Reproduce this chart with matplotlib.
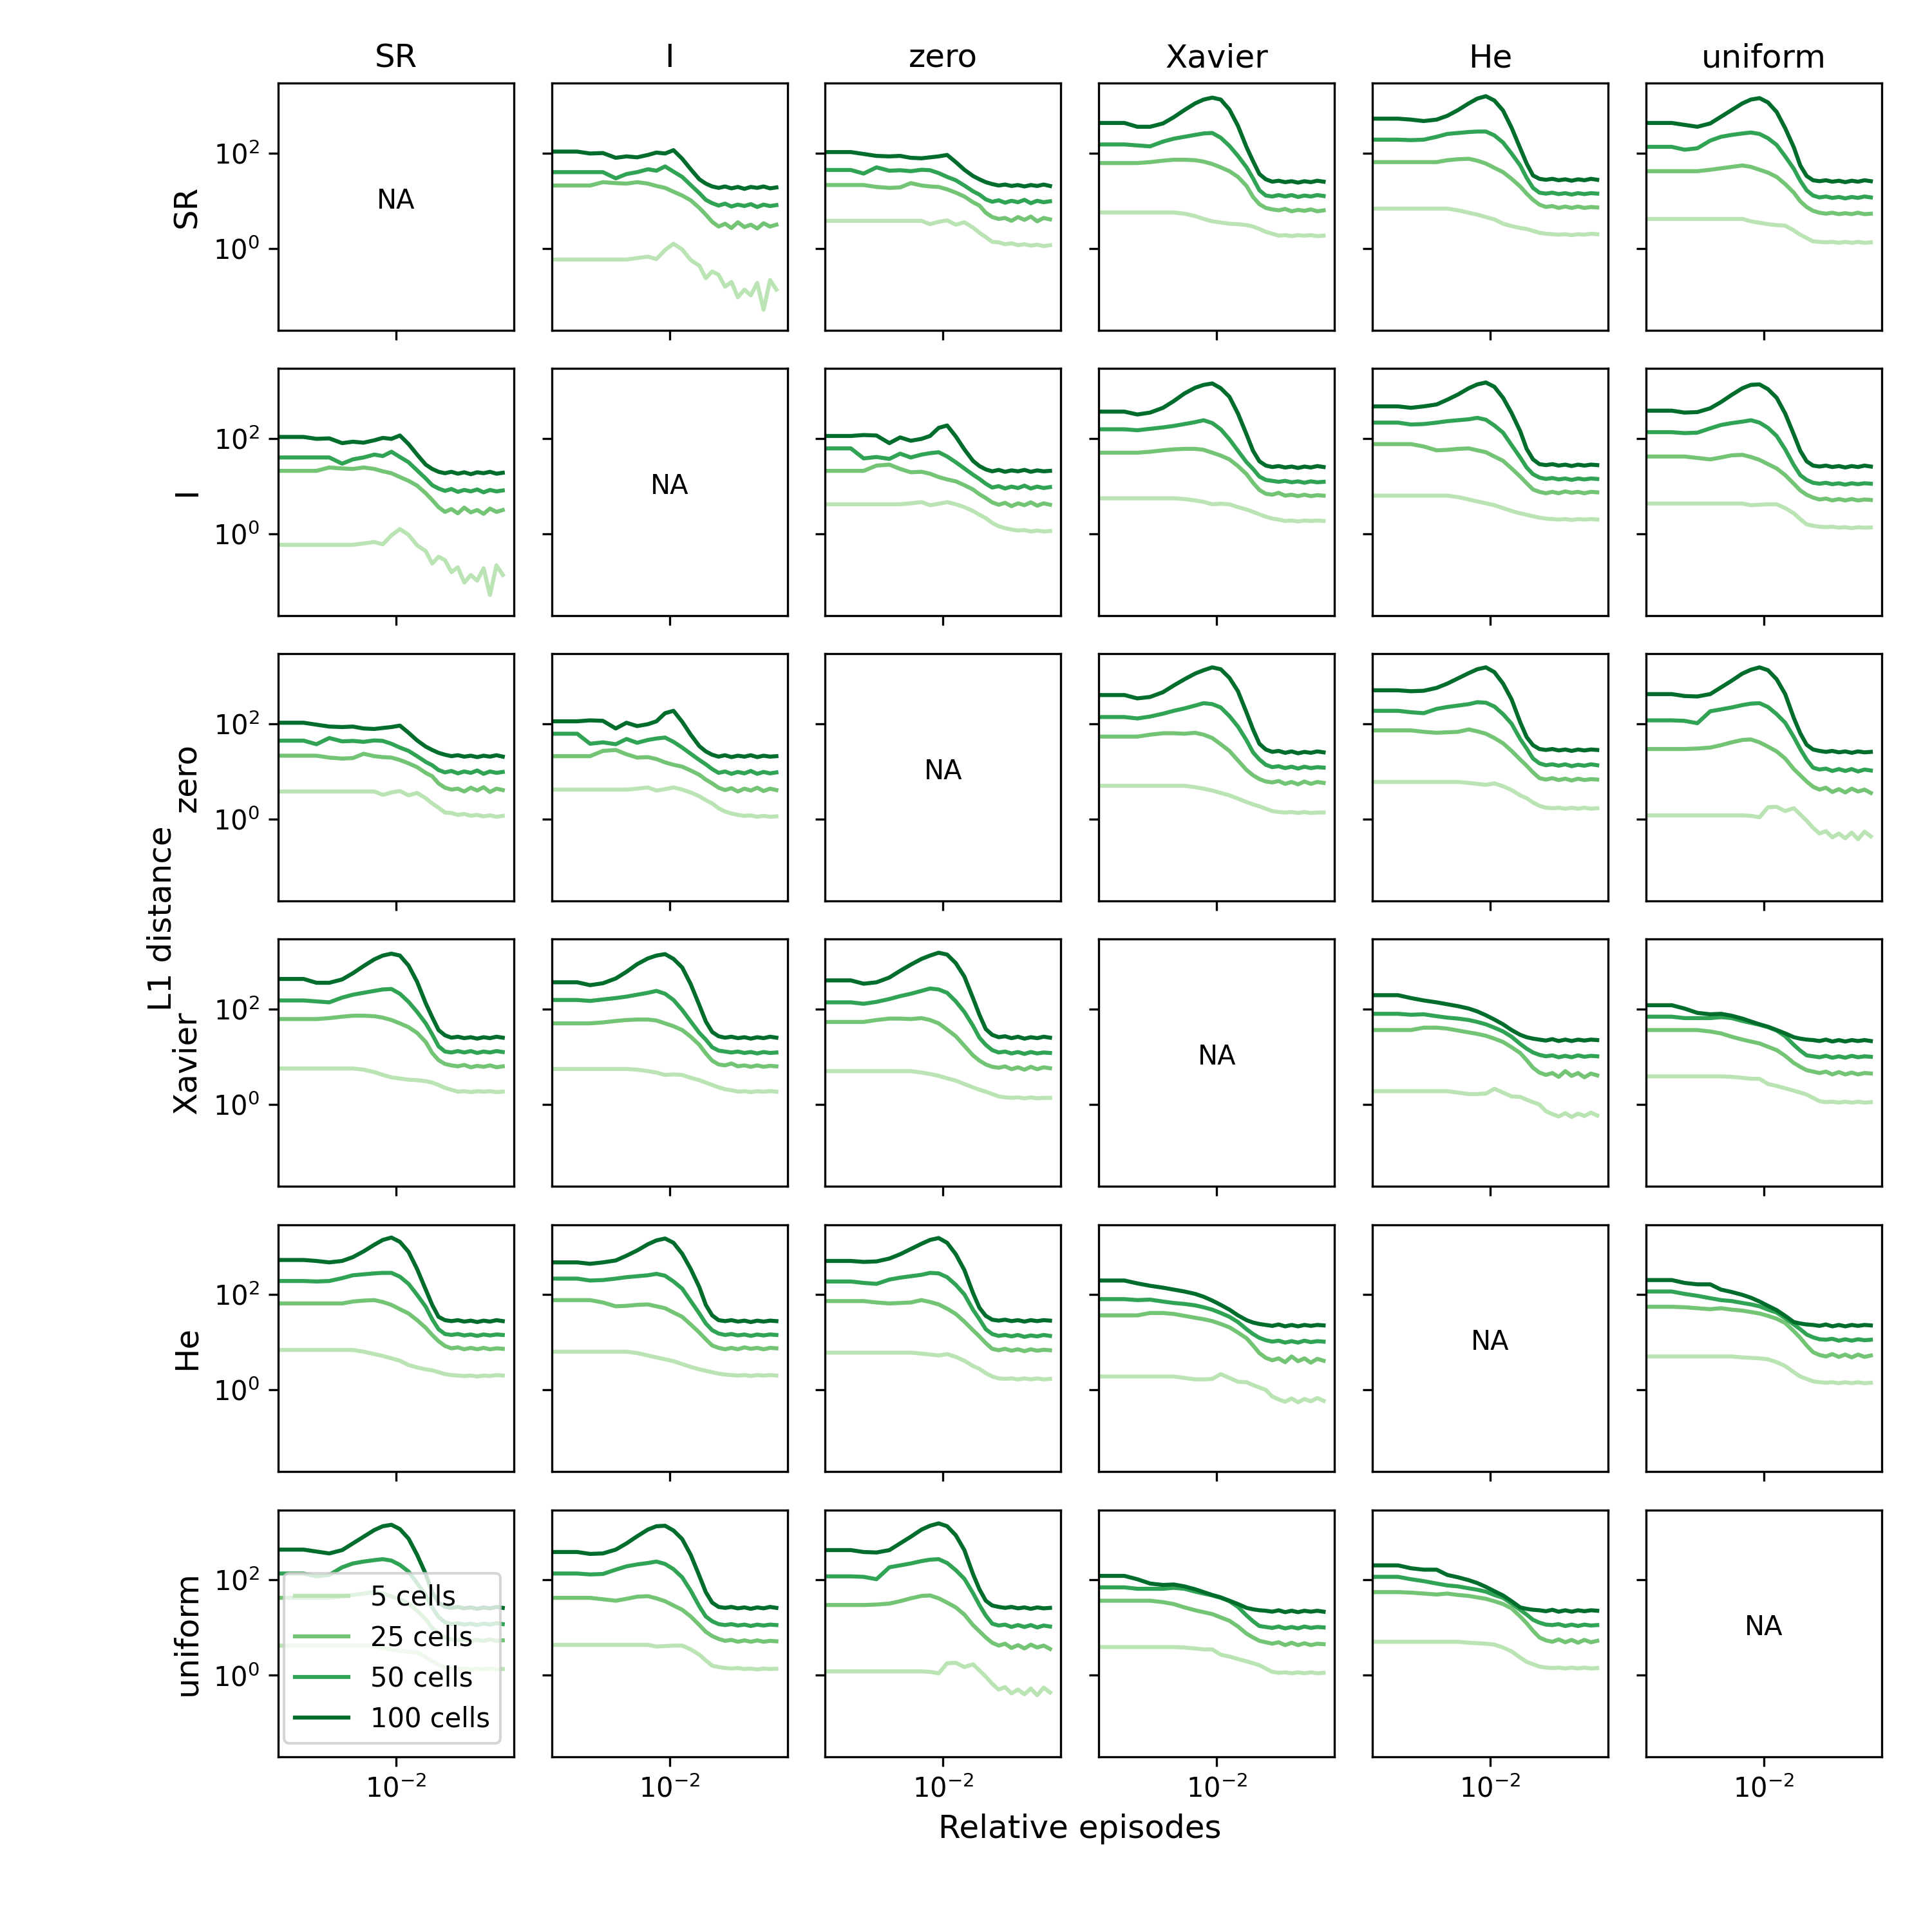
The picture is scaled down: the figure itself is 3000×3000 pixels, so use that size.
import numpy as np
import matplotlib
matplotlib.use("Agg")
import matplotlib.pyplot as plt
from matplotlib.ticker import NullLocator

inits = ['SR', 'I', 'zero', 'Xavier', 'He', 'uniform']
cells = ['5 cells', '25 cells', '50 cells', '100 cells']
colors = ['#bae4b3', '#74c476', '#31a354', '#006d2c']

# relative episodes (first point is episode 0)
episodes = [0.0, 0.000506, 0.000766, 0.00116, 0.00176, 0.00249, 0.00352, 0.00498,
            0.00656, 0.00867, 0.0114, 0.0151, 0.0199, 0.0263, 0.0324, 0.0398,
            0.049, 0.0604, 0.0743, 0.0914, 0.113, 0.139, 0.171, 0.21, 0.259, 0.318]

# log10 of the L1 distance, one list per cell count (5, 25, 50, 100)
sr_i = [
    [-0.23, -0.23, -0.23, -0.23, -0.23, -0.23, -0.20, -0.17, -0.22, -0.03, 0.10, -0.02, -0.24,
     -0.36, -0.62, -0.48, -0.55, -0.80, -0.70, -1.02, -0.86, -0.98, -0.72, -1.28, -0.66, -0.86],
    [1.32, 1.32, 1.32, 1.39, 1.37, 1.36, 1.39, 1.36, 1.31, 1.27, 1.19, 1.11, 1.01,
     0.85, 0.71, 0.56, 0.46, 0.52, 0.43, 0.55, 0.45, 0.50, 0.42, 0.53, 0.46, 0.50],
    [1.60, 1.60, 1.60, 1.60, 1.47, 1.56, 1.60, 1.66, 1.63, 1.72, 1.61, 1.50, 1.33,
     1.16, 1.02, 0.95, 0.90, 0.94, 0.88, 0.92, 0.89, 0.93, 0.87, 0.92, 0.89, 0.91],
    [2.03, 2.03, 1.99, 2.00, 1.90, 1.93, 1.91, 1.96, 2.01, 1.99, 2.06, 1.88, 1.66,
     1.45, 1.36, 1.30, 1.27, 1.30, 1.26, 1.29, 1.25, 1.29, 1.27, 1.30, 1.26, 1.28],
]
sr_zero = [
    [0.58, 0.58, 0.58, 0.58, 0.58, 0.58, 0.58, 0.58, 0.51, 0.56, 0.59, 0.50, 0.55,
     0.44, 0.33, 0.24, 0.14, 0.13, 0.09, 0.11, 0.07, 0.09, 0.06, 0.08, 0.05, 0.07],
    [1.33, 1.33, 1.33, 1.29, 1.27, 1.28, 1.37, 1.32, 1.30, 1.29, 1.24, 1.17, 1.09,
     0.97, 0.90, 0.75, 0.66, 0.62, 0.64, 0.58, 0.66, 0.60, 0.67, 0.57, 0.64, 0.61],
    [1.645, 1.645, 1.57, 1.70, 1.63, 1.64, 1.62, 1.65, 1.64, 1.58, 1.50, 1.43, 1.32,
     1.20, 1.13, 1.03, 0.98, 1.01, 0.96, 1.00, 0.97, 1.02, 0.95, 1.00, 0.97, 0.99],
    [2.02, 2.02, 1.98, 1.94, 1.93, 1.94, 1.90, 1.89, 1.91, 1.93, 1.96, 1.81, 1.65,
     1.52, 1.45, 1.39, 1.35, 1.32, 1.34, 1.31, 1.33, 1.30, 1.33, 1.31, 1.34, 1.31],
]
i_zero = [
    [0.62, 0.62, 0.62, 0.62, 0.62, 0.62, 0.64, 0.665, 0.60, 0.63, 0.665, 0.62, 0.56,
     0.48, 0.40, 0.33, 0.23, 0.16, 0.12, 0.09, 0.07, 0.08, 0.05, 0.07, 0.05, 0.06],
    [1.32, 1.32, 1.32, 1.43, 1.45, 1.36, 1.29, 1.30, 1.26, 1.19, 1.14, 1.10, 1.02,
     0.93, 0.83, 0.75, 0.66, 0.61, 0.65, 0.58, 0.64, 0.60, 0.66, 0.59, 0.64, 0.61],
    [1.79, 1.79, 1.58, 1.61, 1.57, 1.68, 1.60, 1.66, 1.69, 1.71, 1.62, 1.50, 1.37,
     1.24, 1.15, 1.05, 0.97, 1.00, 0.95, 0.99, 0.96, 1.01, 0.95, 0.99, 0.96, 0.98],
    [2.05, 2.05, 2.07, 2.06, 1.90, 2.02, 1.95, 1.99, 2.05, 2.22, 2.27, 2.04, 1.77,
     1.53, 1.42, 1.35, 1.31, 1.34, 1.30, 1.33, 1.31, 1.34, 1.30, 1.33, 1.31, 1.32],
]
sr_xavier = [
    [0.755, 0.755, 0.755, 0.755, 0.755, 0.755, 0.73, 0.68, 0.62, 0.57, 0.545, 0.52, 0.51,
     0.49, 0.46, 0.41, 0.35, 0.31, 0.27, 0.28, 0.26, 0.28, 0.27, 0.28, 0.26, 0.27],
    [1.79, 1.79, 1.79, 1.81, 1.84, 1.86, 1.86, 1.85, 1.82, 1.77, 1.70, 1.62, 1.50,
     1.31, 1.08, 0.93, 0.85, 0.82, 0.80, 0.83, 0.78, 0.81, 0.79, 0.82, 0.78, 0.80],
    [2.18, 2.18, 2.16, 2.14, 2.24, 2.30, 2.34, 2.38, 2.41, 2.42, 2.32, 2.15, 1.94,
     1.70, 1.47, 1.22, 1.11, 1.09, 1.12, 1.09, 1.12, 1.08, 1.11, 1.09, 1.12, 1.10],
    [2.63, 2.63, 2.55, 2.55, 2.62, 2.75, 2.90, 3.04, 3.12, 3.16, 3.12, 2.91, 2.57,
     2.12, 1.83, 1.56, 1.45, 1.40, 1.42, 1.39, 1.41, 1.38, 1.41, 1.39, 1.42, 1.40],
]
sr_he = [
    [0.836, 0.836, 0.836, 0.836, 0.836, 0.836, 0.80, 0.75, 0.71, 0.66, 0.61, 0.52, 0.47,
     0.43, 0.41, 0.37, 0.33, 0.31, 0.30, 0.29, 0.30, 0.28, 0.30, 0.29, 0.31, 0.30],
    [1.81, 1.81, 1.81, 1.81, 1.81, 1.85, 1.87, 1.88, 1.84, 1.78, 1.69, 1.60, 1.46,
     1.30, 1.15, 1.02, 0.92, 0.87, 0.89, 0.85, 0.88, 0.85, 0.88, 0.85, 0.87, 0.86],
    [2.28, 2.28, 2.27, 2.28, 2.34, 2.40, 2.42, 2.44, 2.45, 2.45, 2.37, 2.22, 1.99,
     1.74, 1.48, 1.27, 1.17, 1.15, 1.17, 1.14, 1.16, 1.13, 1.16, 1.14, 1.16, 1.15],
    [2.72, 2.72, 2.70, 2.67, 2.70, 2.78, 2.90, 3.04, 3.14, 3.19, 3.10, 2.89, 2.53,
     2.10, 1.78, 1.53, 1.46, 1.44, 1.46, 1.43, 1.45, 1.42, 1.45, 1.43, 1.46, 1.44],
]
sr_uniform = [
    [0.62, 0.62, 0.62, 0.62, 0.62, 0.62, 0.62, 0.62, 0.57, 0.54, 0.51, 0.49, 0.48,
     0.38, 0.29, 0.22, 0.15, 0.14, 0.13, 0.14, 0.12, 0.14, 0.12, 0.14, 0.12, 0.13],
    [1.62, 1.62, 1.62, 1.62, 1.65, 1.68, 1.71, 1.74, 1.71, 1.65, 1.59, 1.50, 1.35,
     1.17, 0.99, 0.87, 0.79, 0.75, 0.73, 0.75, 0.72, 0.74, 0.72, 0.75, 0.72, 0.73],
    [2.13, 2.13, 2.07, 2.10, 2.26, 2.34, 2.38, 2.41, 2.43, 2.40, 2.31, 2.17, 1.93,
     1.67, 1.42, 1.22, 1.11, 1.07, 1.09, 1.06, 1.08, 1.05, 1.08, 1.06, 1.09, 1.07],
    [2.63, 2.63, 2.59, 2.55, 2.62, 2.76, 2.90, 3.04, 3.12, 3.15, 3.06, 2.86, 2.52,
     2.12, 1.74, 1.52, 1.43, 1.41, 1.43, 1.40, 1.42, 1.39, 1.42, 1.40, 1.43, 1.41],
]
i_xavier = [
    [0.745, 0.745, 0.745, 0.745, 0.745, 0.745, 0.73, 0.70, 0.67, 0.62, 0.63, 0.62, 0.56,
     0.51, 0.46, 0.41, 0.36, 0.32, 0.30, 0.27, 0.28, 0.26, 0.28, 0.27, 0.28, 0.27],
    [1.70, 1.70, 1.70, 1.72, 1.75, 1.77, 1.78, 1.78, 1.76, 1.70, 1.64, 1.56, 1.42,
     1.25, 1.07, 0.92, 0.84, 0.82, 0.86, 0.80, 0.82, 0.79, 0.82, 0.79, 0.81, 0.80],
    [2.19, 2.19, 2.17, 2.20, 2.23, 2.26, 2.30, 2.34, 2.38, 2.32, 2.19, 1.98, 1.74,
     1.50, 1.36, 1.20, 1.13, 1.11, 1.09, 1.11, 1.08, 1.10, 1.07, 1.10, 1.08, 1.09],
    [2.56, 2.56, 2.50, 2.54, 2.64, 2.78, 2.94, 3.06, 3.12, 3.15, 3.05, 2.87, 2.52,
     2.08, 1.74, 1.52, 1.43, 1.40, 1.42, 1.39, 1.41, 1.38, 1.41, 1.39, 1.42, 1.40],
]
i_he = [
    [0.80, 0.80, 0.80, 0.80, 0.80, 0.80, 0.77, 0.72, 0.68, 0.64, 0.60, 0.54, 0.48,
     0.43, 0.40, 0.37, 0.34, 0.32, 0.31, 0.30, 0.31, 0.29, 0.31, 0.30, 0.31, 0.30],
    [1.88, 1.88, 1.88, 1.83, 1.75, 1.76, 1.78, 1.79, 1.75, 1.71, 1.62, 1.53, 1.37,
     1.20, 1.06, 0.93, 0.88, 0.85, 0.88, 0.85, 0.89, 0.86, 0.88, 0.85, 0.88, 0.87],
    [2.33, 2.33, 2.29, 2.30, 2.33, 2.36, 2.38, 2.40, 2.43, 2.39, 2.27, 2.12, 1.86,
     1.60, 1.39, 1.25, 1.18, 1.15, 1.17, 1.14, 1.16, 1.13, 1.16, 1.14, 1.16, 1.15],
    [2.67, 2.67, 2.64, 2.67, 2.71, 2.81, 2.92, 3.05, 3.13, 3.17, 3.08, 2.85, 2.53,
     2.15, 1.78, 1.56, 1.46, 1.44, 1.46, 1.43, 1.45, 1.42, 1.45, 1.43, 1.45, 1.44],
]
i_uniform = [
    [0.635, 0.635, 0.635, 0.635, 0.635, 0.635, 0.635, 0.635, 0.60, 0.61, 0.62, 0.62, 0.54,
     0.43, 0.31, 0.20, 0.17, 0.15, 0.14, 0.15, 0.13, 0.14, 0.12, 0.14, 0.13, 0.135],
    [1.62, 1.62, 1.62, 1.59, 1.56, 1.60, 1.645, 1.655, 1.61, 1.55, 1.46, 1.37, 1.23,
     1.05, 0.91, 0.82, 0.76, 0.72, 0.74, 0.70, 0.73, 0.70, 0.73, 0.70, 0.72, 0.71],
    [2.13, 2.13, 2.11, 2.12, 2.21, 2.28, 2.32, 2.35, 2.38, 2.33, 2.22, 2.05, 1.77,
     1.44, 1.23, 1.13, 1.07, 1.05, 1.07, 1.04, 1.06, 1.03, 1.06, 1.04, 1.06, 1.05],
    [2.58, 2.58, 2.54, 2.55, 2.63, 2.76, 2.91, 3.05, 3.12, 3.13, 3.03, 2.85, 2.52,
     2.08, 1.74, 1.52, 1.43, 1.41, 1.43, 1.40, 1.42, 1.39, 1.42, 1.40, 1.43, 1.41],
]
zero_xavier = [
    [0.70, 0.70, 0.70, 0.70, 0.70, 0.70, 0.70, 0.67, 0.64, 0.60, 0.55, 0.50, 0.43,
     0.36, 0.31, 0.27, 0.22, 0.17, 0.15, 0.14, 0.15, 0.13, 0.15, 0.13, 0.14, 0.14],
    [1.73, 1.73, 1.73, 1.77, 1.80, 1.80, 1.79, 1.81, 1.77, 1.70, 1.57, 1.43, 1.23,
     1.03, 0.92, 0.84, 0.79, 0.77, 0.80, 0.74, 0.78, 0.73, 0.79, 0.74, 0.78, 0.76],
    [2.14, 2.14, 2.11, 2.15, 2.21, 2.27, 2.32, 2.38, 2.43, 2.41, 2.34, 2.16, 1.94,
     1.65, 1.40, 1.25, 1.14, 1.09, 1.11, 1.07, 1.10, 1.06, 1.10, 1.07, 1.09, 1.08],
    [2.60, 2.60, 2.53, 2.56, 2.66, 2.80, 2.93, 3.05, 3.12, 3.18, 3.14, 2.96, 2.68,
     2.23, 1.88, 1.58, 1.46, 1.41, 1.43, 1.39, 1.42, 1.38, 1.41, 1.39, 1.42, 1.40],
]
zero_he = [
    [0.78, 0.78, 0.78, 0.78, 0.78, 0.78, 0.78, 0.76, 0.74, 0.72, 0.75, 0.69, 0.61,
     0.50, 0.44, 0.35, 0.28, 0.24, 0.23, 0.24, 0.22, 0.24, 0.22, 0.24, 0.22, 0.23],
    [1.86, 1.86, 1.86, 1.83, 1.81, 1.82, 1.83, 1.88, 1.84, 1.79, 1.70, 1.59, 1.43,
     1.25, 1.12, 0.98, 0.86, 0.83, 0.86, 0.82, 0.85, 0.81, 0.85, 0.82, 0.84, 0.83],
    [2.27, 2.27, 2.24, 2.22, 2.31, 2.35, 2.38, 2.41, 2.45, 2.44, 2.36, 2.20, 2.00,
     1.68, 1.48, 1.27, 1.17, 1.13, 1.15, 1.12, 1.15, 1.11, 1.14, 1.12, 1.15, 1.13],
    [2.70, 2.70, 2.68, 2.69, 2.75, 2.84, 2.95, 3.06, 3.14, 3.18, 3.08, 2.84, 2.51,
     2.03, 1.72, 1.55, 1.47, 1.45, 1.47, 1.44, 1.46, 1.43, 1.46, 1.44, 1.46, 1.45],
]
zero_uniform = [
    [0.08, 0.08, 0.08, 0.08, 0.08, 0.08, 0.08, 0.08, 0.07, 0.04, 0.25, 0.26, 0.17,
     0.23, 0.10, -0.03, -0.18, -0.30, -0.25, -0.38, -0.30, -0.40, -0.28, -0.42, -0.26, -0.36],
    [1.47, 1.47, 1.47, 1.48, 1.50, 1.55, 1.61, 1.66, 1.67, 1.61, 1.52, 1.42, 1.27,
     1.05, 0.92, 0.79, 0.68, 0.62, 0.66, 0.57, 0.63, 0.56, 0.64, 0.58, 0.62, 0.55],
    [2.07, 2.07, 2.06, 2.01, 2.26, 2.30, 2.34, 2.39, 2.42, 2.43, 2.35, 2.20, 2.02,
     1.72, 1.47, 1.25, 1.08, 1.04, 1.06, 1.01, 1.05, 1.01, 1.05, 1.00, 1.04, 1.02],
    [2.62, 2.62, 2.58, 2.57, 2.62, 2.76, 2.90, 3.05, 3.13, 3.18, 3.12, 2.93, 2.62,
     2.12, 1.80, 1.56, 1.46, 1.43, 1.41, 1.43, 1.40, 1.42, 1.39, 1.42, 1.40, 1.41],
]
xavier_he = [
    [0.28, 0.28, 0.28, 0.28, 0.28, 0.28, 0.25, 0.22, 0.22, 0.23, 0.33, 0.25, 0.17,
     0.16, 0.10, 0.05, 0.00, -0.14, -0.20, -0.25, -0.18, -0.26, -0.19, -0.24, -0.17, -0.23],
    [1.56, 1.56, 1.56, 1.61, 1.61, 1.59, 1.55, 1.51, 1.48, 1.44, 1.38, 1.31, 1.20,
     1.08, 0.93, 0.77, 0.67, 0.62, 0.66, 0.58, 0.70, 0.60, 0.66, 0.57, 0.65, 0.61],
    [1.90, 1.90, 1.88, 1.89, 1.85, 1.82, 1.80, 1.77, 1.73, 1.68, 1.61, 1.53, 1.42,
     1.27, 1.17, 1.09, 1.04, 1.01, 1.03, 0.99, 1.02, 0.99, 1.03, 1.00, 1.02, 1.01],
    [2.29, 2.29, 2.23, 2.18, 2.14, 2.10, 2.06, 2.01, 1.95, 1.87, 1.78, 1.68, 1.56,
     1.46, 1.41, 1.38, 1.36, 1.34, 1.37, 1.33, 1.36, 1.33, 1.36, 1.34, 1.36, 1.35],
]
xavier_uniform = [
    [0.59, 0.59, 0.59, 0.59, 0.59, 0.59, 0.58, 0.56, 0.54, 0.54, 0.43, 0.39, 0.34,
     0.29, 0.25, 0.21, 0.14, 0.07, 0.05, 0.06, 0.04, 0.06, 0.04, 0.06, 0.04, 0.05],
    [1.56, 1.56, 1.56, 1.56, 1.53, 1.49, 1.42, 1.36, 1.32, 1.28, 1.21, 1.14, 1.02,
     0.87, 0.79, 0.72, 0.69, 0.66, 0.69, 0.63, 0.68, 0.63, 0.67, 0.63, 0.66, 0.65],
    [1.84, 1.84, 1.81, 1.81, 1.81, 1.83, 1.81, 1.75, 1.71, 1.67, 1.62, 1.55, 1.43,
     1.25, 1.13, 1.03, 1.01, 0.99, 1.02, 0.98, 1.01, 0.98, 1.02, 0.99, 1.01, 1.00],
    [2.08, 2.08, 2.01, 1.92, 1.89, 1.90, 1.86, 1.80, 1.74, 1.68, 1.63, 1.56, 1.49,
     1.41, 1.38, 1.36, 1.35, 1.33, 1.36, 1.32, 1.35, 1.32, 1.35, 1.33, 1.35, 1.33],
]
he_uniform = [
    [0.70, 0.70, 0.70, 0.70, 0.70, 0.70, 0.70, 0.68, 0.67, 0.66, 0.64, 0.58, 0.50,
     0.37, 0.28, 0.23, 0.18, 0.16, 0.15, 0.16, 0.14, 0.16, 0.14, 0.16, 0.14, 0.15],
    [1.74, 1.74, 1.73, 1.71, 1.69, 1.71, 1.68, 1.66, 1.63, 1.60, 1.55, 1.49, 1.40,
     1.23, 1.09, 0.93, 0.79, 0.73, 0.70, 0.75, 0.69, 0.74, 0.68, 0.74, 0.69, 0.72],
    [2.06, 2.06, 2.01, 1.97, 1.92, 1.88, 1.86, 1.82, 1.79, 1.75, 1.68, 1.62, 1.50,
     1.37, 1.27, 1.16, 1.10, 1.06, 1.05, 1.07, 1.03, 1.06, 1.03, 1.06, 1.04, 1.05],
    [2.30, 2.30, 2.24, 2.21, 2.21, 2.10, 2.05, 1.99, 1.93, 1.85, 1.76, 1.67, 1.55,
     1.42, 1.39, 1.37, 1.36, 1.34, 1.37, 1.33, 1.36, 1.33, 1.36, 1.34, 1.36, 1.35],
]

pairs = {
    ('SR', 'I'): sr_i, ('SR', 'zero'): sr_zero, ('I', 'zero'): i_zero,
    ('SR', 'Xavier'): sr_xavier, ('SR', 'He'): sr_he, ('SR', 'uniform'): sr_uniform,
    ('I', 'Xavier'): i_xavier, ('I', 'He'): i_he, ('I', 'uniform'): i_uniform,
    ('zero', 'Xavier'): zero_xavier, ('zero', 'He'): zero_he, ('zero', 'uniform'): zero_uniform,
    ('Xavier', 'He'): xavier_he, ('Xavier', 'uniform'): xavier_uniform,
    ('He', 'uniform'): he_uniform,
}

fig, axes = plt.subplots(6, 6, figsize=(10, 10), dpi=300, sharex=True, sharey=True,
                         subplot_kw=dict(xscale='log', yscale='log'))
fig.subplots_adjust(left=0.1439, right=0.9740, bottom=0.0907, top=0.9569,
                    wspace=0.161, hspace=0.156)

for i, row in enumerate(inits):
    for j, col in enumerate(inits):
        ax = axes[i, j]
        if i == j:
            ax.text(1e-2, 10, 'NA', ha='center', va='center')
        else:
            curves = pairs.get((row, col)) or pairs[(col, row)]
            for k, vals in enumerate(curves):
                ax.plot(episodes, 10 ** np.array(vals), color=colors[k], label=cells[k])
        if i == 0:
            ax.set_title(col, fontsize=12)
        if j == 0:
            ax.set_ylabel(row, fontsize=12)

ax0 = axes[0, 0]
ax0.set_xlim(2.21e-4, 0.4525)
ax0.set_ylim(10 ** -1.708, 10 ** 3.461)
ax0.set_xticks([1e-2])
ax0.set_yticks([1, 100])
ax0.xaxis.set_minor_locator(NullLocator())
ax0.yaxis.set_minor_locator(NullLocator())

axes[5, 0].legend(loc='lower left', bbox_to_anchor=(0.026, 0.055), borderaxespad=0)

fig.text(0.0838, 0.5245, 'L1 distance', rotation=90, ha='center', va='center', fontsize=12)
fig.text(0.5589, 0.0533, 'Relative episodes', ha='center', va='center', fontsize=12)

fig.savefig('out.png', dpi=300)
